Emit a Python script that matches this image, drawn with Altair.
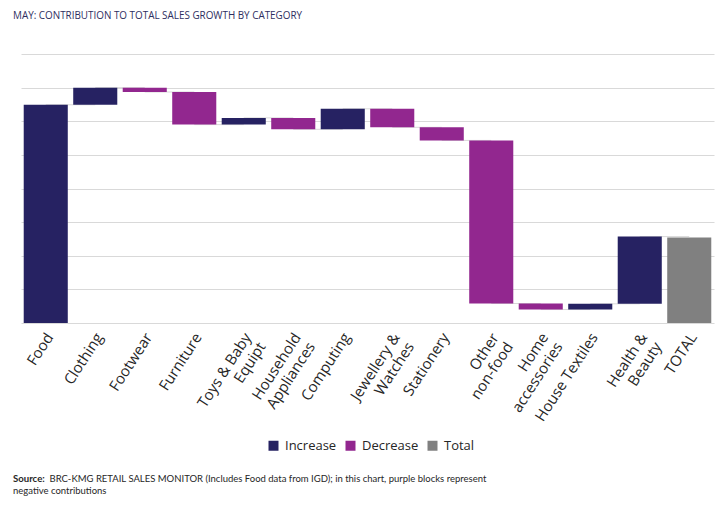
import altair as alt
import pandas as pd

# ---- data ----
categories = ["Food", "Clothing", "Footwear", "Furniture", "Toys & Baby\nEquipt",
              "Household\nAppliances", "Computing", "Jewellery &\nWatches", "Stationery",
              "Other\nnon-food", "Home\naccessories", "House Textiles", "Health &\nBeauty", "TOTAL"]
contributions = [6.49, 0.51, -0.13, -0.97, 0.20, -0.34, 0.61, -0.55, -0.39, -4.85, -0.18, 0.17, 2.00]
total_value = 2.54

kinds = ["Increase", "Decrease", "Total"]
colors = ["#262262", "#92278F", "#808080"]

title_text = "MAY: CONTRIBUTION TO TOTAL SALES GROWTH BY CATEGORY"
source_bold = "Source:"
source_line1 = "BRC-KMG RETAIL SALES MONITOR (Includes Food data from IGD); in this chart, purple blocks represent"
source_line2 = "negative contributions"

# ---- build waterfall table ----
rows = []
running = 0.0
for cat, amt in zip(categories[:-1], contributions):
    start = running
    running = running + amt
    rows.append({"category": cat, "start": start, "end": running,
                 "kind": "Increase" if amt >= 0 else "Decrease"})
rows.append({"category": categories[-1], "start": 0.0, "end": total_value, "kind": "Total"})
df = pd.DataFrame(rows)
df["next"] = df["category"].shift(-1)
conn = df.dropna(subset=["next"])[["category", "next", "end"]]

xscale = alt.Scale(paddingInner=0.11, paddingOuter=0.055)
yscale = alt.Scale(domain=[0, 8], nice=False)

x_enc = alt.X("category:N", sort=categories, scale=xscale,
              axis=alt.Axis(title=None, labelAngle=-57, labelAlign="right", labelBaseline="middle",
                            ticks=False, domain=False, grid=False,
                            labelFont="Open Sans", labelFontSize=15, labelColor="#262626",
                            labelPadding=11, labelOffset=4, labelLineHeight=17,
                            labelExpr="split(datum.label, '\\n')"))

y_axis = alt.Axis(title=None, labels=False, ticks=False, domain=False,
                  values=[0, 1, 2, 3, 4, 5, 6, 7, 8], gridColor="#d9d9d9", gridWidth=1)

connectors = alt.Chart(conn).mark_rule(color="#d9d9d9", strokeWidth=1).encode(
    x=alt.X("category:N", sort=categories, scale=xscale),
    x2="next:N",
    y=alt.Y("end:Q", scale=yscale, axis=y_axis),
)

bars = alt.Chart(df).mark_bar().encode(
    x=x_enc,
    y=alt.Y("start:Q", scale=yscale, axis=y_axis),
    y2="end:Q",
    color=alt.Color("kind:N",
                    scale=alt.Scale(domain=kinds, range=colors),
                    legend=alt.Legend(title=None, orient="none", legendX=246, legendY=385,
                                      direction="horizontal", symbolType="square", symbolSize=100,
                                      symbolStrokeWidth=0, labelFont="Open Sans", labelFontSize=13,
                                      labelColor="#262626", columnPadding=7, labelOffset=5)),
)

src1 = alt.Chart(pd.DataFrame({"t": [source_bold]})).mark_text(
    align="left", baseline="middle", font="Lato", fontSize=9.6, fontWeight="bold", color="#262626"
).encode(text="t:N", x=alt.value(-8), y=alt.value(424.5))

src2 = alt.Chart(pd.DataFrame({"t": [source_line1]})).mark_text(
    align="left", baseline="middle", font="Lato", fontSize=9.5, color="#262626"
).encode(text="t:N", x=alt.value(28.5), y=alt.value(424.5))

src3 = alt.Chart(pd.DataFrame({"t": [source_line2]})).mark_text(
    align="left", baseline="middle", font="Lato", fontSize=9.5, color="#262626"
).encode(text="t:N", x=alt.value(-8), y=alt.value(436.5))

chart = alt.layer(connectors, bars, src1, src2, src3).properties(
    width=693, height=269,
    padding={"left": 13, "top": 46, "right": 4, "bottom": 175},
    autosize=alt.AutoSizeParams(type="none"),
    title=alt.TitleParams(text=title_text, anchor="start", frame="group", dx=-8, offset=33,
                          font="Open Sans", fontSize=9.9, fontWeight="normal", color="#2e2e60"),
).configure_view(strokeWidth=0)

chart.save("out.html", embed_options={"renderer": "svg", "actions": False})
